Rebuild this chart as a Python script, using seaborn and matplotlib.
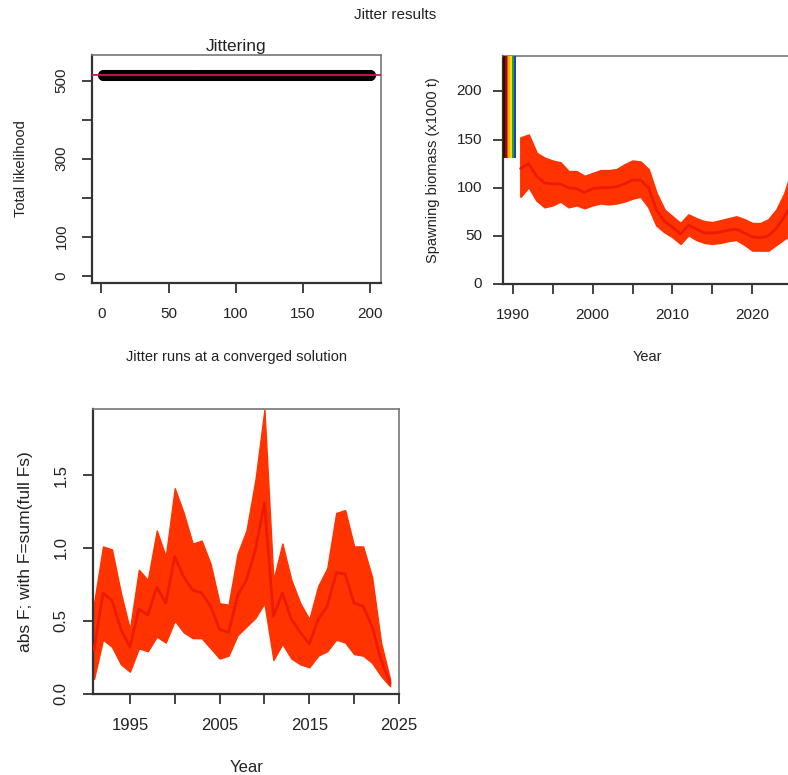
import matplotlib
matplotlib.use("Agg")
import matplotlib.pyplot as plt
from matplotlib.patches import Rectangle
import numpy as np
import pandas as pd
import seaborn as sns

sns.set_theme(style="white")
plt.rcParams["font.family"] = ["Liberation Sans", "DejaVu Sans"]

# ---------------- data ----------------
jitter_runs = list(range(1, 201))
total_likelihood = [515.2] * 200
best_likelihood = 515.2

sb_years = list(range(1991, 2026))
sb_mid = [120, 125, 112, 105, 104, 104, 100, 99, 95, 99, 100, 100, 101, 104, 108,
          108, 100, 77, 65, 59, 52, 61, 57, 53, 53, 54, 56, 57, 53, 49, 48, 50, 58, 70, 84]
sb_upper = [152, 155, 136, 131, 128, 126, 117, 117, 112, 115, 118, 118, 119, 124, 128,
            127, 119, 94, 77, 70, 63, 72, 68, 65, 64, 66, 68, 70, 67, 63, 63, 67, 77, 94, 120]
sb_lower = [91, 101, 87, 80, 82, 86, 80, 82, 79, 82, 84, 83, 84, 86, 89,
            91, 80, 61, 54, 49, 42, 51, 46, 43, 42, 43, 45, 46, 41, 35, 35, 35, 41, 47, 52]

f_years = list(range(1991, 2025))
f_mid = [0.30, 0.69, 0.64, 0.44, 0.32, 0.58, 0.54, 0.73, 0.62, 0.94, 0.80, 0.71, 0.69, 0.60,
         0.44, 0.42, 0.67, 0.78, 0.99, 1.31, 0.53, 0.69, 0.51, 0.42, 0.34, 0.51, 0.60, 0.83,
         0.82, 0.62, 0.60, 0.46, 0.23, 0.07]
f_upper = [0.62, 1.01, 0.99, 0.69, 0.44, 0.85, 0.78, 1.12, 0.94, 1.41, 1.24, 1.03, 1.05, 0.89,
           0.62, 0.61, 0.96, 1.12, 1.47, 1.95, 0.78, 1.03, 0.78, 0.62, 0.51, 0.74, 0.86, 1.24,
           1.26, 1.01, 1.01, 0.80, 0.35, 0.10]
f_lower = [0.10, 0.37, 0.32, 0.20, 0.15, 0.31, 0.29, 0.39, 0.35, 0.50, 0.42, 0.38, 0.38, 0.31,
           0.24, 0.26, 0.40, 0.46, 0.52, 0.62, 0.23, 0.34, 0.24, 0.20, 0.18, 0.26, 0.29, 0.37,
           0.35, 0.27, 0.26, 0.21, 0.12, 0.05]

legend_colors = ["#2b1408", "#8b1010", "#ff4400", "#ffb000", "#e8e020", "#2ca02c", "#1f3fbf"]

lik_df = pd.DataFrame({"run": jitter_runs, "lik": total_likelihood})
sb_df = pd.DataFrame({"year": sb_years, "mid": sb_mid, "lo": sb_lower, "hi": sb_upper})
f_df = pd.DataFrame({"year": f_years, "mid": f_mid, "lo": f_lower, "hi": f_upper})

# ---------------- styling ----------------
TXT = "#222222"
BAND = "#ff3300"
MIDC = "#ee1a04"
W, H = 788, 775
fig = plt.figure(figsize=(W / 100, H / 100), dpi=100)


def px_axes(l, t, r, b):
    return fig.add_axes([l / W, 1 - b / H, (r - l) / W, (b - t) / H])


def r_style(ax, fs=11, pad=10):
    for s in ax.spines.values():
        s.set_color("#777777")
        s.set_linewidth(1.2)
    ax.spines["left"].set_color("#333333")
    ax.spines["bottom"].set_color("#333333")
    ax.spines["left"].set_linewidth(1.6)
    ax.spines["bottom"].set_linewidth(1.6)
    ax.tick_params(axis="both", which="both", direction="out", length=7, width=1.3,
                   color="#333333", labelcolor=TXT, labelsize=fs, pad=pad,
                   left=True, bottom=True)
    for lab in ax.get_yticklabels():
        lab.set_rotation(90)
        lab.set_va("center")
    ax.grid(False)
    ax.set_facecolor("white")


# ---- panel 1: jittering ----
ax1 = px_axes(92, 55, 381, 283)
sns.scatterplot(data=lik_df, x="run", y="lik", ax=ax1, color="black", s=64,
                edgecolor="black", linewidth=0, zorder=3)
ax1.axhline(best_likelihood, color="#d0185a", lw=1.3, zorder=4)
ax1.set_xlim(-7, 208)
ax1.set_ylim(-19, 566)
ax1.set_xticks([0, 50, 100, 150, 200])
ax1.set_yticks([0, 100, 200, 300, 400, 500])
ax1.set_yticklabels(["0", "100", "", "300", "", "500"])
r_style(ax1, 11, 10)
ax1.set_title("Jittering", fontsize=12.5, color=TXT, pad=3)
ax1.set_xlabel("Jitter runs at a converged solution", fontsize=10.5, color=TXT)
ax1.set_ylabel("Total likelihood", fontsize=10.5, color=TXT)
ax1.xaxis.set_label_coords(0.5, (283 - 357) / 228)
ax1.xaxis.label.set_va("center")
ax1.yaxis.set_label_coords((21 - 92) / 289, 0.5)
ax1.yaxis.label.set_va("center")

# ---- panel 2: spawning biomass ----
ax2 = px_axes(503, 55.5, 792, 284)
ax2.fill_between(sb_df["year"], sb_df["lo"], sb_df["hi"], color=BAND, lw=1.5,
                 edgecolor=BAND, joinstyle="round", zorder=2)
sns.lineplot(data=sb_df, x="year", y="mid", ax=ax2, color=MIDC, lw=2.0, zorder=3)
for i, c in enumerate(legend_colors):
    ax2.add_patch(Rectangle((0.0 + i * 0.0062, 0.553), 0.0062, 0.447, transform=ax2.transAxes,
                            color=c, lw=0, zorder=5, clip_on=False))
ax2.set_xlim(1988.8, 2024.95)
ax2.set_ylim(0, 237.4)
ax2.set_xticks([1990, 1995, 2000, 2005, 2010, 2015, 2020])
ax2.set_xticklabels(["1990", "", "2000", "", "2010", "", "2020"])
ax2.set_yticks([0, 50, 100, 150, 200])
r_style(ax2, 11, 10)
ax2.tick_params(axis="y", labelrotation=0, pad=8)
ax2.set_xlabel("Year", fontsize=10.5, color=TXT)
ax2.set_ylabel("Spawning biomass (x1000 t)", fontsize=10.5, color=TXT)
ax2.xaxis.set_label_coords(0.5, (284 - 357) / 228.5)
ax2.xaxis.label.set_va("center")
ax2.yaxis.set_label_coords((433 - 503) / 289, 0.5)
ax2.yaxis.label.set_va("center")

# ---- panel 3: F ----
ax3 = px_axes(93.3, 409.3, 399, 693.5)
ax3.fill_between(f_df["year"], f_df["lo"], f_df["hi"], color=BAND, lw=1.0,
                 edgecolor=BAND, zorder=2)
sns.lineplot(data=f_df, x="year", y="mid", ax=ax3, color=MIDC, lw=2.0, zorder=3)
ax3.set_xlim(1990.92, 2025)
ax3.set_ylim(0, 1.952)
ax3.set_xticks([1995, 2000, 2005, 2010, 2015, 2020, 2025])
ax3.set_xticklabels(["1995", "", "2005", "", "2015", "", "2025"])
ax3.set_yticks([0.0, 0.5, 1.0, 1.5])
ax3.set_yticklabels(["0.0", "0.5", "1.0", "1.5"])
r_style(ax3, 12, 11)
ax3.set_xlabel("Year", fontsize=12, color=TXT)
ax3.set_ylabel("abs F; with F=sum(full Fs)", fontsize=12.5, color=TXT)
ax3.xaxis.set_label_coords(0.5, (693.5 - 767) / 284.2)
ax3.xaxis.label.set_va("center")
ax3.yaxis.set_label_coords((25 - 93.3) / 305.7, 0.5)
ax3.yaxis.label.set_va("center")

fig.text(395 / W, 1 - 15 / H, "Jitter results", ha="center", va="center",
         fontsize=11, color=TXT)

fig.savefig("out.png", dpi=100, facecolor="white")
